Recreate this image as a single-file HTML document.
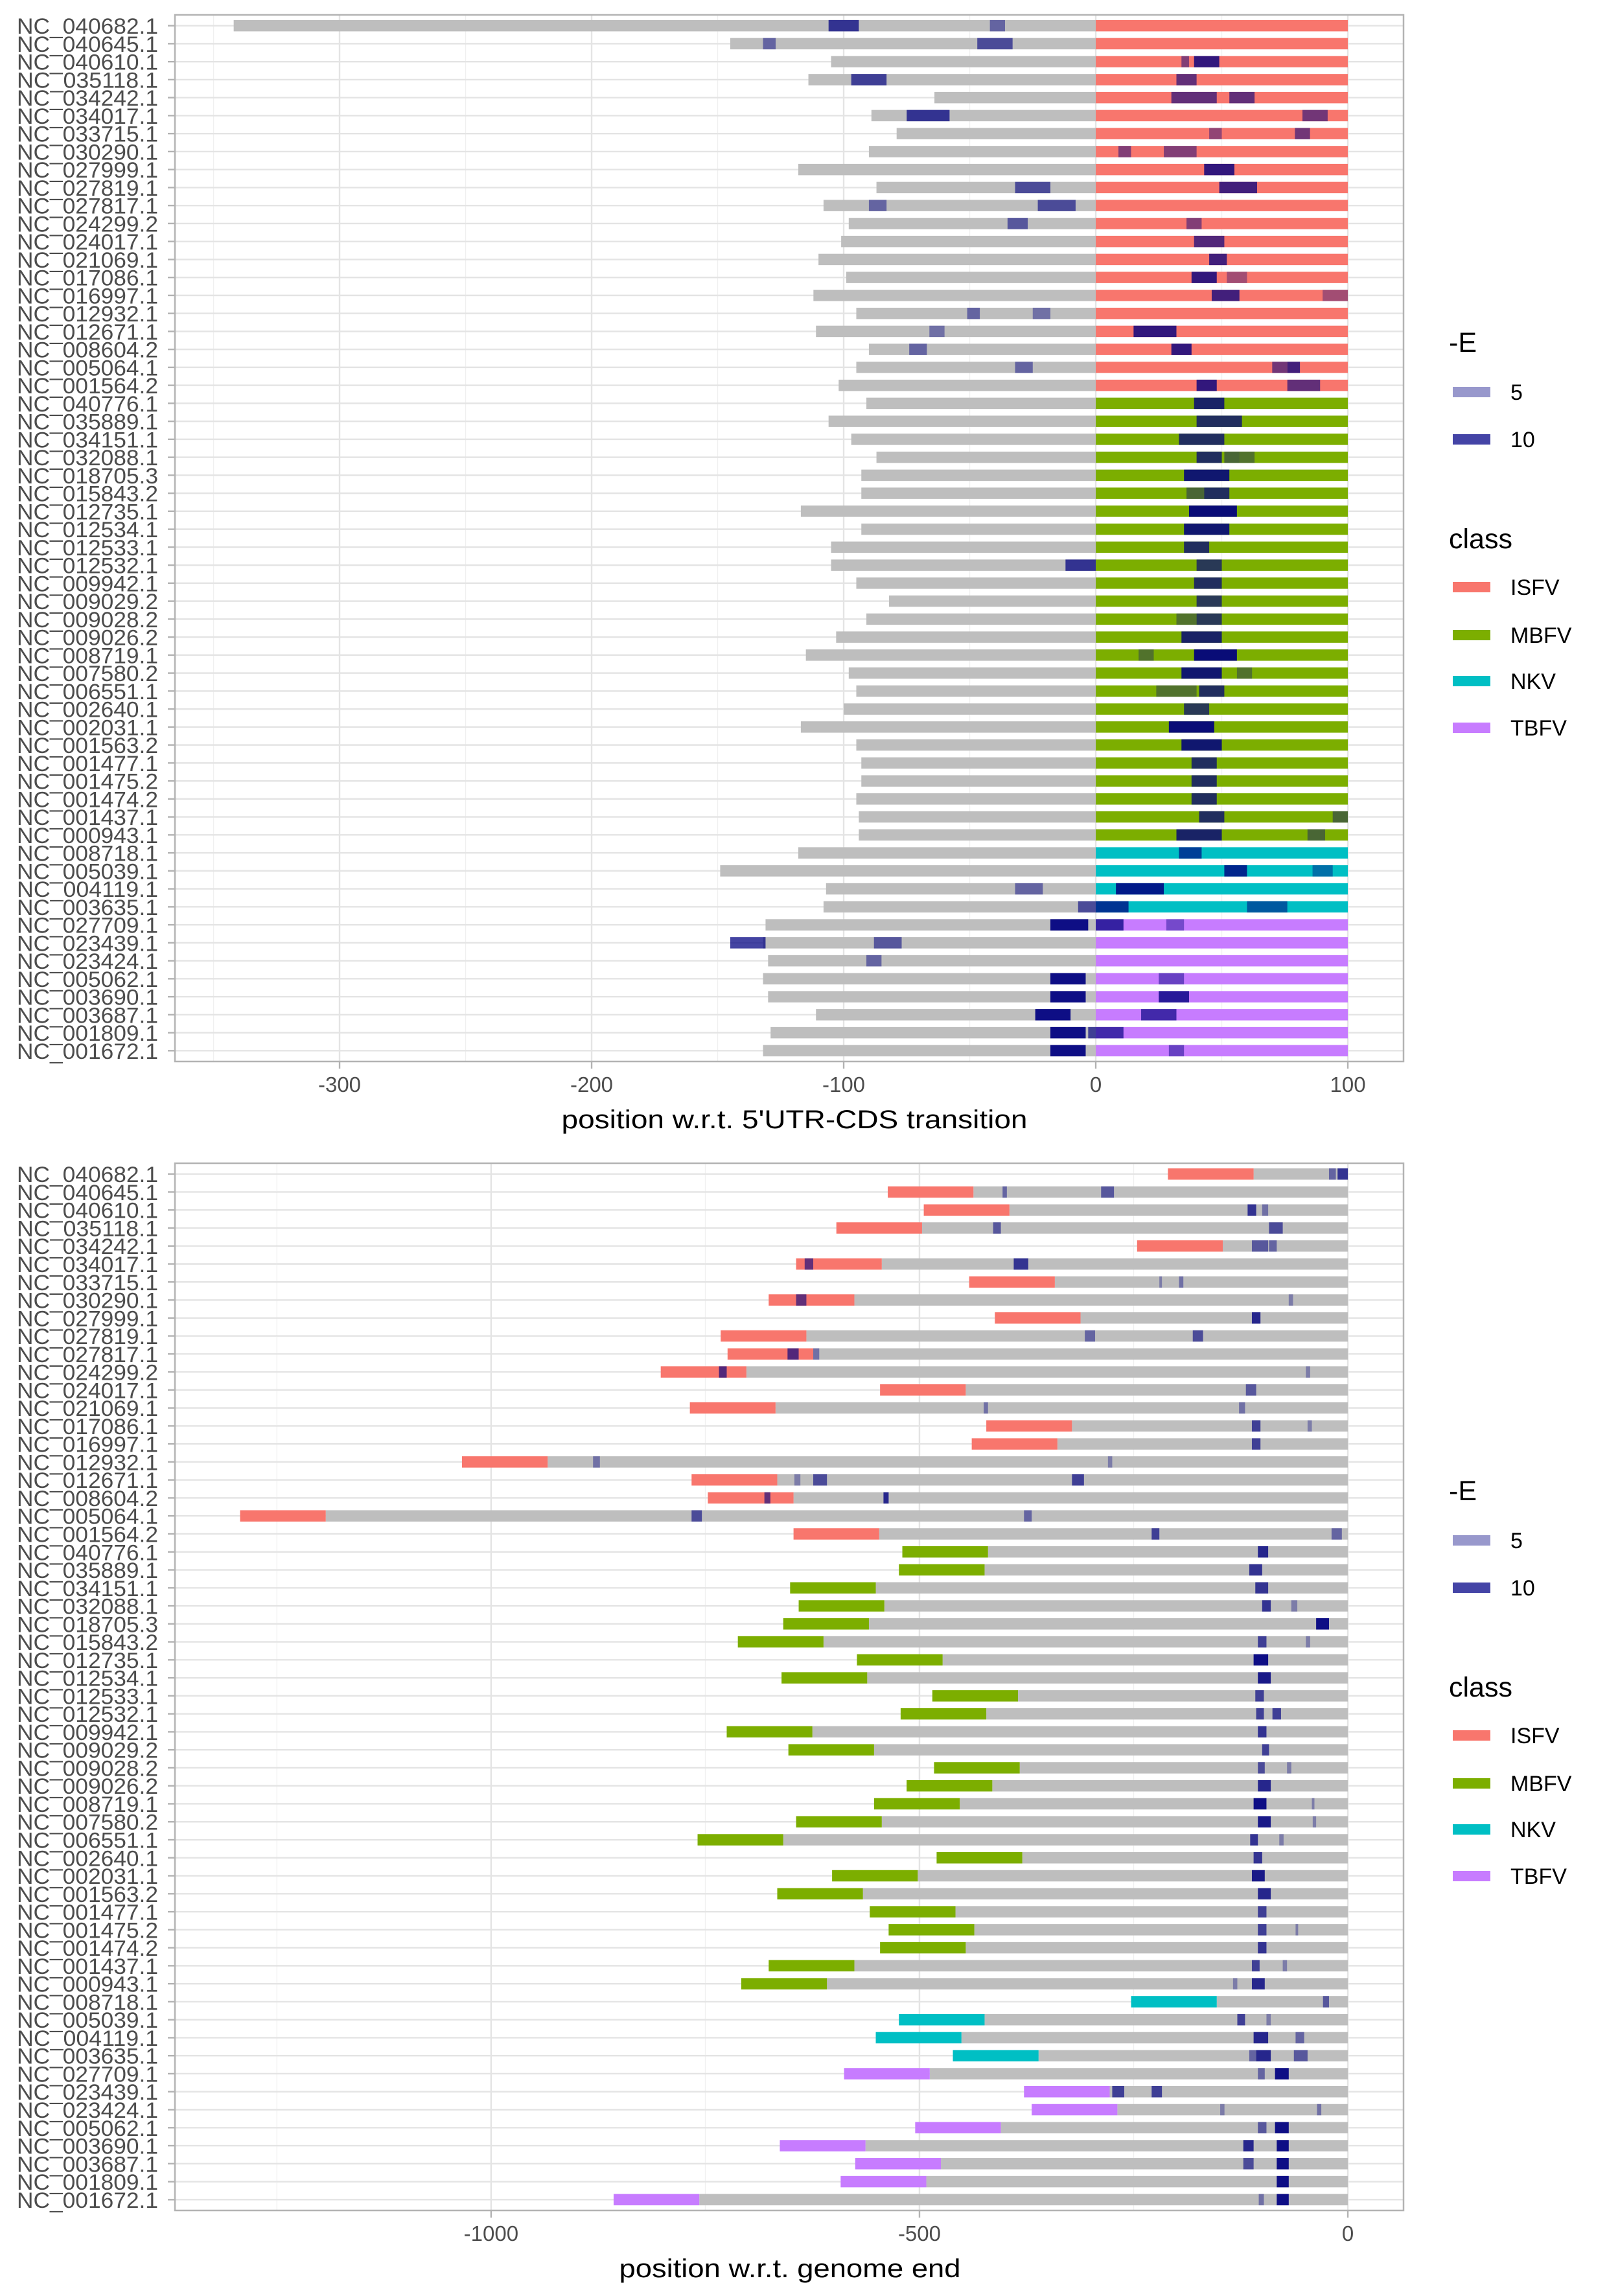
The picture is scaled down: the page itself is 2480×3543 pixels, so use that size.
<!DOCTYPE html>
<html><head><meta charset="utf-8"><style>
html,body{margin:0;padding:0;background:#fff;}
svg{display:block;font-family:"Liberation Sans",sans-serif;}
</style></head><body>
<svg id="chart" width="2480" height="3543" viewBox="0 0 2480 3543" xmlns="http://www.w3.org/2000/svg"></svg>
<script>
const labels=["NC_040682.1","NC_040645.1","NC_040610.1","NC_035118.1","NC_034242.1","NC_034017.1","NC_033715.1","NC_030290.1","NC_027999.1","NC_027819.1","NC_027817.1","NC_024299.2","NC_024017.1","NC_021069.1","NC_017086.1","NC_016997.1","NC_012932.1","NC_012671.1","NC_008604.2","NC_005064.1","NC_001564.2","NC_040776.1","NC_035889.1","NC_034151.1","NC_032088.1","NC_018705.3","NC_015843.2","NC_012735.1","NC_012534.1","NC_012533.1","NC_012532.1","NC_009942.1","NC_009029.2","NC_009028.2","NC_009026.2","NC_008719.1","NC_007580.2","NC_006551.1","NC_002640.1","NC_002031.1","NC_001563.2","NC_001477.1","NC_001475.2","NC_001474.2","NC_001437.1","NC_000943.1","NC_008718.1","NC_005039.1","NC_004119.1","NC_003635.1","NC_027709.1","NC_023439.1","NC_023424.1","NC_005062.1","NC_003690.1","NC_003687.1","NC_001809.1","NC_001672.1"];
const classes=["ISFV","ISFV","ISFV","ISFV","ISFV","ISFV","ISFV","ISFV","ISFV","ISFV","ISFV","ISFV","ISFV","ISFV","ISFV","ISFV","ISFV","ISFV","ISFV","ISFV","ISFV","MBFV","MBFV","MBFV","MBFV","MBFV","MBFV","MBFV","MBFV","MBFV","MBFV","MBFV","MBFV","MBFV","MBFV","MBFV","MBFV","MBFV","MBFV","MBFV","MBFV","MBFV","MBFV","MBFV","MBFV","MBFV","NKV","NKV","NKV","NKV","TBFV","TBFV","TBFV","TBFV","TBFV","TBFV","TBFV","TBFV"];
const utrStart=[-342,-145,-105,-114,-64,-89,-79,-90,-118,-87,-108,-98,-101,-110,-99,-112,-95,-111,-90,-95,-102,-91,-106,-97,-87,-93,-93,-117,-93,-105,-105,-95,-82,-91,-103,-115,-98,-95,-100,-117,-95,-93,-93,-95,-94,-94,-118,-149,-107,-108,-131,-132,-130,-132,-130,-111,-129,-132];
const topHits=[[0,-106,-94,9],[0,-42,-36,5],[1,-132,-127,5],[1,-47,-33,7],[2,34,37,5],[2,39,49,10],[3,-97,-83,8],[3,32,40,7],[4,30,48,7],[4,53,63,7],[5,-75,-58,9],[5,82,92,6],[6,45,50,4],[6,79,85,6],[7,9,14,5],[7,27,40,5],[8,43,55,10],[9,-32,-18,7],[9,49,64,9],[10,-90,-83,5],[10,-23,-8,7],[11,-35,-27,6],[11,36,42,5],[12,39,51,8],[13,45,52,9],[14,38,48,10],[14,52,60,3],[15,46,57,9],[15,90,100,3],[16,-51,-46,5],[16,-25,-18,4],[17,-66,-60,4],[17,15,32,10],[18,-74,-67,5],[18,30,38,10],[19,-32,-25,5],[19,70,76,6],[19,76,81,9],[20,40,48,10],[20,76,89,7],[21,39,51,10],[22,40,58,9],[23,33,51,9],[24,40,50,9],[24,51,57,4],[24,57,63,3],[25,35,53,11],[26,36,43,4],[26,43,53,9],[27,37,56,12],[28,35,53,11],[29,35,45,9],[30,-12,0,9],[30,40,50,8],[31,39,50,9],[32,40,50,8],[33,32,40,3],[33,40,50,8],[34,34,50,10],[35,17,23,3],[35,39,56,12],[36,34,50,11],[36,56,62,3],[37,24,40,3],[37,41,51,9],[38,35,45,8],[39,29,47,12],[40,34,50,11],[41,38,48,9],[42,38,48,9],[43,38,48,9],[44,41,51,9],[44,94,100,4],[45,32,50,10],[45,84,91,4],[46,33,42,8],[47,51,60,10],[47,86,94,4],[48,-32,-21,5],[48,8,27,11],[49,-7,0,7],[49,0,13,9],[49,60,76,6],[50,-18,-3,12],[50,0,11,9],[50,28,35,4],[51,-145,-131,9],[51,-88,-77,6],[52,-91,-85,5],[53,-18,-4,12],[53,25,35,5],[54,-18,-4,12],[54,25,37,10],[55,-24,-10,12],[55,18,32,8],[56,-18,-4,12],[56,-3,11,8],[57,-18,-4,12],[57,29,35,5]];
const endStart=[-210,-537,-495,-597,-246,-644,-442,-676,-412,-732,-724,-802,-546,-768,-422,-439,-1034,-766,-747,-1293,-647,-520,-524,-651,-641,-659,-712,-573,-661,-485,-522,-725,-653,-483,-515,-553,-644,-759,-480,-602,-666,-558,-536,-546,-676,-708,-253,-524,-551,-461,-588,-378,-369,-505,-663,-575,-592,-857];
const botHits=[[0,-22,-14,5],[0,-12,0,9],[1,-403,-398,5],[1,-288,-273,6],[2,-117,-107,9],[2,-100,-93,4],[3,-414,-405,6],[3,-92,-76,7],[4,-112,-93,6],[4,-92,-83,5],[5,-634,-624,7],[5,-390,-373,9],[6,-220,-217,3],[6,-197,-192,4],[7,-644,-632,7],[7,-69,-64,3],[8,-112,-102,10],[9,-307,-295,5],[9,-181,-169,7],[10,-654,-641,8],[10,-624,-617,4],[11,-734,-725,8],[11,-49,-44,3],[12,-119,-107,6],[13,-425,-420,4],[13,-127,-120,4],[14,-112,-102,8],[14,-47,-42,3],[15,-112,-102,8],[16,-881,-873,4],[16,-280,-275,3],[17,-646,-639,3],[17,-624,-608,7],[17,-322,-308,8],[18,-681,-674,7],[18,-542,-536,10],[19,-766,-754,7],[19,-378,-369,5],[20,-229,-220,8],[20,-19,-7,5],[21,-105,-93,10],[22,-115,-100,9],[23,-108,-93,9],[24,-100,-90,9],[24,-66,-59,3],[25,-37,-22,12],[26,-105,-95,8],[26,-49,-44,3],[27,-110,-93,12],[28,-105,-90,11],[29,-108,-98,8],[30,-107,-98,8],[30,-88,-78,8],[31,-105,-95,9],[32,-100,-92,8],[33,-105,-97,7],[33,-71,-66,3],[34,-105,-90,10],[35,-110,-95,12],[35,-42,-39,3],[36,-105,-90,11],[36,-41,-37,3],[37,-114,-105,9],[37,-80,-75,3],[38,-110,-100,9],[39,-112,-97,11],[40,-105,-90,10],[41,-105,-95,8],[42,-105,-95,8],[42,-61,-58,3],[43,-105,-95,9],[44,-112,-103,8],[44,-76,-71,3],[45,-134,-129,3],[45,-112,-97,10],[46,-29,-22,6],[47,-129,-120,8],[47,-95,-90,3],[48,-110,-93,10],[48,-61,-51,5],[49,-115,-107,5],[49,-107,-90,10],[49,-63,-47,6],[50,-105,-97,5],[50,-85,-69,12],[51,-275,-261,8],[51,-229,-217,8],[52,-149,-144,3],[52,-36,-31,4],[53,-105,-95,6],[53,-85,-69,12],[54,-122,-110,10],[54,-83,-69,12],[55,-122,-110,7],[55,-83,-69,12],[56,-83,-69,13],[57,-104,-98,4],[57,-83,-69,12]];
const topTicks=[-300,-200,-100,0,100];
const botTicks=[-1000,-500,0];
const classColor={ISFV:"#F8766D",MBFV:"#7CAE00",NKV:"#00BFC4",TBFV:"#C77CFF"};

const NS="http://www.w3.org/2000/svg";
const svg=document.getElementById('chart');
function mk(tag,attrs,parent){const e=document.createElementNS(NS,tag);for(const k in attrs)e.setAttribute(k,attrs[k]);(parent||svg).appendChild(e);return e;}

function panel(cfg){
  const g=mk('g',{});
  
  
  const L=cfg.left,R=cfg.right,T=cfg.top,B=cfg.bottom;
  const x=v=>L+(v-cfg.dmin)/(cfg.dmax-cfg.dmin)*(R-L);
  const n=labels.length, step=(B-T)/(n+0.2);
  const y=i=>T+step*(i+0.6);
  mk('rect',{x:L,y:T,width:R-L,height:B-T,fill:'#fff'},g);
  cfg.minor.forEach(v=>{const l=mk('line',{x1:x(v),x2:x(v),y1:T,y2:B,stroke:'#f0f0f0','stroke-width':1.3},g);
    });
  cfg.ticks.forEach(v=>{const l=mk('line',{x1:x(v),x2:x(v),y1:T,y2:B,stroke:'#e4e4e4','stroke-width':2.4},g);
    });
  for(let i=0;i<n;i++){const l=mk('line',{x1:L,x2:R,y1:y(i),y2:y(i),stroke:'#e4e4e4','stroke-width':2.4},g);
    }
  const bh=17.5;
  for(let i=0;i<n;i++){
    const s=cfg.segs(i);
    const gr=mk('rect',{x:x(s.g0),y:y(i)-bh/2,width:x(s.g1)-x(s.g0),height:bh,fill:'#bebebe'},g);
    
    const cr=mk('rect',{x:x(s.c0),y:y(i)-bh/2,width:x(s.c1)-x(s.c0),height:bh,fill:classColor[classes[i]]},g);
    
  }
  cfg.hits.forEach(h=>{
    const a=Math.min(0.93,0.15+h[3]*0.065);
    const r=mk('rect',{x:x(h[1]),y:y(h[0])-bh/2,width:Math.max(2,x(h[2])-x(h[1])),height:bh,fill:'#000080','fill-opacity':a},g);
    
  });
  mk('rect',{x:L,y:T,width:R-L,height:B-T,fill:'none',stroke:'#b3b3b3','stroke-width':2.5},g);
  for(let i=0;i<n;i++){
    mk('line',{x1:L-11,x2:L,y1:y(i),y2:y(i),stroke:'#b3b3b3','stroke-width':2.4},g);
    const t=mk('text',{x:244,y:y(i)+12.5,'text-anchor':'end','font-size':34,fill:'#4d4d4d',textLength:218,lengthAdjust:'spacingAndGlyphs'},g);
    t.textContent=labels[i];
    
  }
  cfg.ticks.forEach(v=>{
    mk('line',{x1:x(v),x2:x(v),y1:B,y2:B+11,stroke:'#b3b3b3','stroke-width':2.4},g);
    const t=mk('text',{x:x(v),y:B+47,'text-anchor':'middle','font-size':33,fill:'#4d4d4d'},g);
    t.textContent=String(v);
    
  });
  const tt=mk('text',{x:cfg.titleX,y:B+103,'text-anchor':'middle','font-size':40,fill:'#000',textLength:cfg.titleW,lengthAdjust:'spacingAndGlyphs'},g);
  tt.textContent=cfg.title;
  
  const lg=mk('g',{},g);
  
  const lt=(txt,yy,fs,xx,name)=>{const e=mk('text',{x:xx,y:T+yy,'font-size':fs,fill:'#000'},lg);e.textContent=txt;
    };
  lt('-E',520,43,2236,'legend-title-e');
  lt('class',823,43,2236,'legend-title-class');
  const keys=[['5',582,'#9898cc'],['10',655,'#4444a6'],['ISFV',883,classColor.ISFV],['MBFV',957,classColor.MBFV],['NKV',1028,classColor.NKV],['TBFV',1100,classColor.TBFV]];
  keys.forEach(k=>{
    const r=mk('rect',{x:2242,y:T+k[1]-8,width:58,height:16,fill:k[2]},lg);
    
    lt(k[0],k[1]+12,34,2331,'legend-entry');
  });
}

panel({name:'utr-cds-panel',left:270,right:2166,top:23,bottom:1638,dmin:-365.3,dmax:122.1,
  ticks:topTicks,minor:[-350,-250,-150,-50,50],hits:topHits,
  segs:i=>({g0:utrStart[i],g1:0,c0:0,c1:100}),
  title:"position w.r.t. 5'UTR-CDS transition",titleX:1226,titleW:719});
panel({name:'genome-end-panel',left:270,right:2166,top:1795,bottom:3411,dmin:-1369,dmax:65,
  ticks:botTicks,minor:[-1250,-750,-250],hits:botHits,
  segs:i=>({g0:endStart[i]+100,g1:0,c0:endStart[i],c1:endStart[i]+100}),
  title:"position w.r.t. genome end",titleX:1219,titleW:527});
</script>
</body></html>
